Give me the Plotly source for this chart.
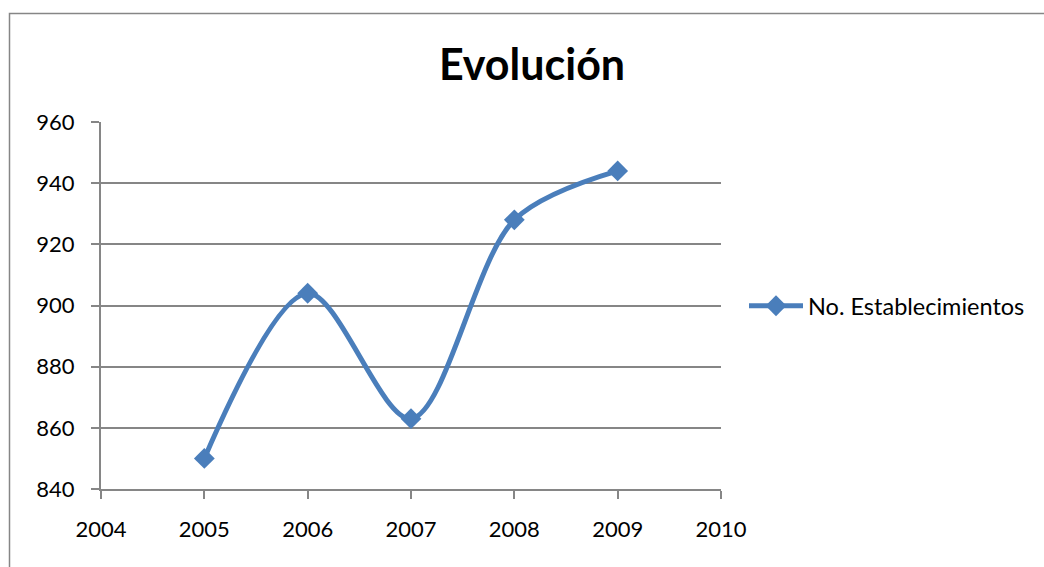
import plotly.graph_objects as go

# Establishment counts per year
years = [2005, 2006, 2007, 2008, 2009]
establishments = [850, 904, 863, 928, 944]

series_name = "No. Establecimientos"
title_text = "Evolución"

x_ticks = [2004, 2005, 2006, 2007, 2008, 2009, 2010]
y_ticks = [840, 860, 880, 900, 920, 940, 960]

blue = "#4A7EBB"
gray = "#868686"
font_family = "Lato, 'Open Sans', sans-serif"

fig = go.Figure()
fig.add_trace(go.Scatter(
    x=years,
    y=establishments,
    name=series_name,
    mode="lines+markers",
    line=dict(color=blue, width=5, shape="spline", smoothing=0.9),
    marker=dict(symbol="diamond", size=16, color=blue),
))

fig.update_layout(
    width=1044,
    height=567,
    margin=dict(l=101, r=323, t=122, b=78),
    paper_bgcolor="white",
    plot_bgcolor="white",
    font=dict(family=font_family, size=22, color="black"),
    title=dict(
        text=f"<b>{title_text}</b>",
        font=dict(family=font_family, size=43, color="black"),
        x=532 / 1044, xanchor="center",
        y=1 - 65 / 567, yanchor="middle",
    ),
    showlegend=True,
    legend=dict(
        x=(744 - 101) / 620, xanchor="left",
        y=(489 - 306) / 367, yanchor="middle",
        font=dict(family=font_family, size=23.5, color="black"),
        itemwidth=54,
        bgcolor="rgba(0,0,0,0)",
    ),
    xaxis=dict(
        range=[2004, 2010],
        tickvals=x_ticks,
        ticktext=[str(v) for v in x_ticks],
        showgrid=False,
        zeroline=False,
        showline=True, linecolor=gray, linewidth=2,
        ticks="outside", ticklen=8, tickwidth=2, tickcolor=gray,
        ticklabelstandoff=12,
    ),
    yaxis=dict(
        range=[840, 960],
        tickvals=y_ticks,
        ticktext=[str(v) for v in y_ticks],
        showgrid=True, gridcolor=gray, gridwidth=1.5,
        zeroline=False,
        showline=True, linecolor=gray, linewidth=2,
        ticks="outside", ticklen=8, tickwidth=2, tickcolor=gray,
        ticklabelstandoff=12,
    ),
    shapes=[
        dict(
            type="rect", xref="paper", yref="paper",
            x0=(9.5 - 101) / 620, x1=2.0,
            y0=-1.0, y1=(489 - 13.5) / 367,
            line=dict(color=gray, width=1.5),
            fillcolor="rgba(0,0,0,0)",
            layer="below",
        )
    ],
)

fig.write_html("out.html")
